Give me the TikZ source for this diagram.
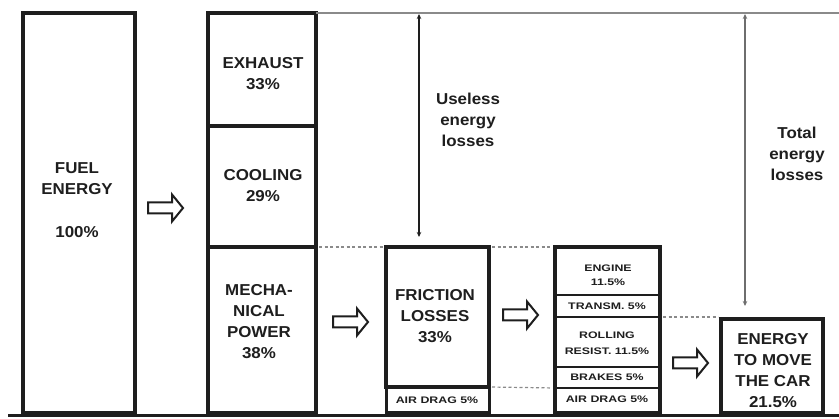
\documentclass[tikz,border=0pt]{standalone}
\usepackage{fontspec}
\newfontfamily\bigfnt[FakeStretch=1.07]{Liberation Sans}
\newfontfamily\smallfnt[FakeStretch=1.3]{Liberation Sans}
\usetikzlibrary{arrows.meta,fit}
\definecolor{ink}{HTML}{1E1E1E}
\definecolor{guide}{HTML}{8A8A8A}
\begin{document}
\begin{tikzpicture}[x=1pt,y=-1pt,
  box/.style={draw=ink, line width=4pt, inner sep=0pt, outer sep=0pt, anchor=north west},
  subbox/.style={draw=ink, line width=2.6pt, inner sep=0pt, outer sep=0pt, anchor=north west, minimum width=105pt},
  bigtxt/.style={text=ink, inner sep=0pt, align=center, font=\bigfnt\bfseries\fontsize{15.8}{21}\selectfont},
  smalltxt/.style={text=ink, inner sep=0pt, align=center, font=\smallfnt\bfseries\fontsize{9.5}{14}\selectfont},
  dashline/.style={draw=guide, line width=1.2pt, dash pattern=on 3pt off 2.5pt, shorten <=3pt, shorten >=3pt},
  measure/.style={line width=1.6pt, {Stealth[length=5pt,width=4.5pt]}-{Stealth[length=5pt,width=4.5pt]}},
  hollow arrow/.pic={\draw[draw=ink, line width=2pt, line join=miter, fill=white]
     (0,-5.5) -- (24,-5.5) -- (24,-13.5) -- (35,0) -- (24,13.5) -- (24,5.5) -- (0,5.5) -- cycle;}
]
\useasboundingbox (0,0) rectangle (839,419);

% ground line
\coordinate (gl) at (8,416);
\coordinate (gr) at (839,416);
\draw[ink, line width=3pt] (gl) -- (gr);

% fuel
\node[box, minimum width=112pt, minimum height=400pt] (fuel) at (23,13) {};

% first stack
\node[box, minimum width=108pt, minimum height=113pt] (exhaust) at (208,13) {};
\node[box, minimum width=108pt, minimum height=121pt] (cooling) at (208,126) {};
\node[box, minimum width=108pt, minimum height=166pt] (mech) at (208,247) {};

% friction
\node[box, minimum width=103pt, minimum height=140pt] (friction) at (386,247) {};
\node[box, line width=3pt, minimum width=103pt, minimum height=26pt] (airdragA) at (386,387) {};

% second stack
\node[subbox, minimum height=48pt] (engine) at (555,247) {};
\node[subbox, minimum height=22pt] (transm) at (555,295) {};
\node[subbox, minimum height=50pt] (rolling) at (555,317) {};
\node[subbox, minimum height=21pt] (brakes) at (555,367) {};
\node[subbox, minimum height=25pt] (airdragB) at (555,388) {};
\node[draw=ink, line width=4pt, inner sep=0pt, outer sep=0pt, fit=(engine)(airdragB)] (stack) {};

% energy to move the car
\node[box, minimum width=102pt, minimum height=94pt] (energy) at (721,319) {};

% top guide line
\coordinate (tr) at (839,13);
\draw[guide, line width=2pt] (exhaust.north east) -- (tr);

% dashed guides
\draw[dashline] (mech.north east) -- (friction.north west);
\draw[dashline] (friction.north east) -- (engine.north west);
\draw[dashline] (airdragA.north east) -- (airdragB.north west);
\draw[dashline] (transm.south east) -- (transm.south east -| energy.west);

% measuring arrows
\coordinate (ua) at (419,14);
\coordinate (ub) at (419,237);
\draw[measure, ink] (ua) -- (ub);
\coordinate (ta) at (745,14);
\coordinate (tb) at (745,306);
\draw[measure, guide!80!black] (ta) -- (tb);

% block arrows
\pic at (148,208) {hollow arrow};
\pic at (333,322) {hollow arrow};
\pic at (503,315) {hollow arrow};
\pic at (673,363) {hollow arrow};

% texts
\node[bigtxt] (tfuel) at (77,200) {FUEL\\ENERGY\\[22pt]100\%};
\node[bigtxt] (texh) at (263,73.5) {EXHAUST\\33\%};
\node[bigtxt] (tcool) at (263,186) {COOLING\\29\%};
\node[bigtxt] (tmech) at (259,321.5) {MECHA-\\NICAL\\POWER\\38\%};
\node[bigtxt] (tfric) at (435,316.5) {FRICTION\\LOSSES\\33\%};
\node[smalltxt] (tairA) at (437,400) {AIR DRAG 5\%};
\node[smalltxt] (teng) at (608,275) {ENGINE\\11.5\%};
\node[smalltxt] (ttr) at (607,306) {TRANSM. 5\%};
\node[smalltxt, font=\smallfnt\bfseries\fontsize{9.5}{16}\selectfont] (troll) at (607,343) {ROLLING\\RESIST. 11.5\%};
\node[smalltxt] (tbr) at (607,377.5) {BRAKES 5\%};
\node[smalltxt] (tairB) at (607,399) {AIR DRAG 5\%};
\node[bigtxt] (tenergy) at (773,370.5) {ENERGY\\TO MOVE\\THE CAR\\21.5\%};
\node[bigtxt] (tuse) at (468,119.5) {Useless\\energy\\losses};
\node[bigtxt] (ttot) at (797,154) {Total\\energy\\losses};
\end{tikzpicture}
\end{document}
